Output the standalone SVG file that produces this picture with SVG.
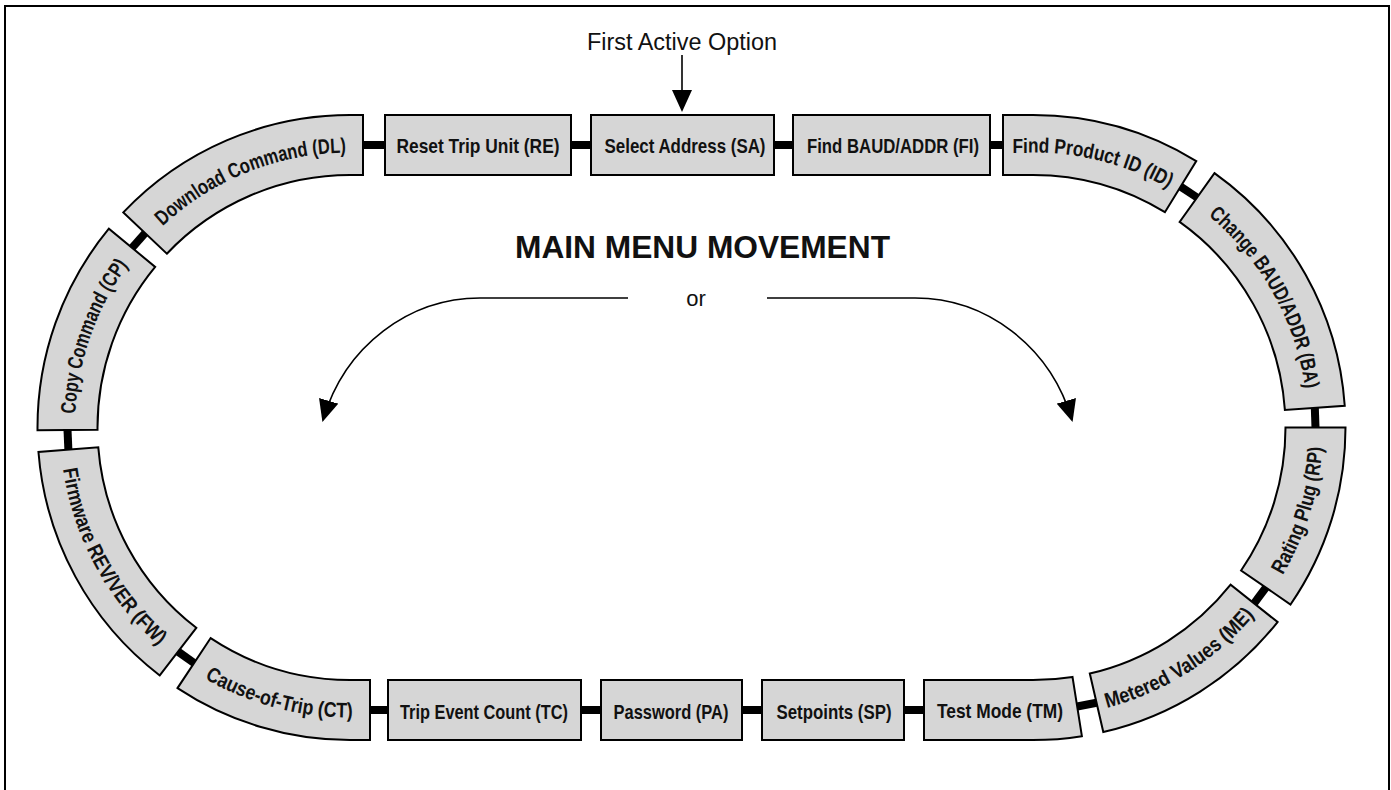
<svg xmlns="http://www.w3.org/2000/svg" width="1391" height="790" viewBox="0 0 1391 790">
<style>
.box{fill:#d6d6d6;stroke:#000;stroke-width:2;stroke-linejoin:miter}
.lbl{font-family:"Liberation Sans",Arial,sans-serif;font-weight:bold;font-size:21px;fill:#111}
.plain{font-family:"Liberation Sans",Arial,sans-serif;fill:#111}
.bar{stroke:#000;stroke-width:8;fill:none}
.thin{stroke:#000;stroke-width:1.6;fill:none}
</style>
<defs>
<marker id="ah" markerUnits="userSpaceOnUse" viewBox="0 0 22 20" refX="20" refY="10" markerWidth="22" markerHeight="20" orient="auto">
<path d="M0,0 L22,10 L0,20 Z" fill="#000"/>
</marker>
<path id="tp-dl" d="M150.52 238.20 A275 275 0 0 1 350 152.5 L363 152.5"/>
<path id="tp-cp" d="M75.01 429.90 A275 275 0 0 1 137.80 252.58"/>
<path id="tp-fw" d="M60.89 450.25 A290 290 0 0 0 173.46 657.57"/>
<path id="tp-ct" d="M189.94 669.33 A290 290 0 0 0 350 717.5 L370 717.5"/>
<path id="tp-id" d="M1003 152.5 L1033 152.5 A275 275 0 0 1 1176.69 193.02"/>
<path id="tp-ba" d="M1192.69 203.62 A275 275 0 0 1 1307.33 408.32"/>
<path id="tp-rp" d="M1272.0 591.76 A290 290 0 0 0 1323 427.5"/>
<path id="tp-me" d="M1098.24 710.07 A290 290 0 0 0 1259.96 608.03"/>
</defs>
<rect width="1391" height="790" fill="#fff"/>
<path d="M5 791 V6 H1389 V791" fill="none" stroke="#000" stroke-width="2"/>

<g id="connectors">
<line class="bar" x1="362" y1="145" x2="386" y2="145"/>
<line class="bar" x1="570" y1="145" x2="592" y2="145"/>
<line class="bar" x1="773" y1="145" x2="794" y2="145"/>
<line class="bar" x1="989" y1="145" x2="1004" y2="145"/>
<line class="bar" x1="145.08" y1="233.04" x2="132.02" y2="247.81"/>
<line class="bar" x1="67.51" y1="429.97" x2="68.37" y2="449.67"/>
<line class="bar" x1="178.03" y1="651.62" x2="194.08" y2="663.07"/>
<line class="bar" x1="369" y1="710" x2="389" y2="710"/>
<line class="bar" x1="580" y1="710" x2="602" y2="710"/>
<line class="bar" x1="741" y1="710" x2="763" y2="710"/>
<line class="bar" x1="903" y1="710" x2="925" y2="710"/>
<line class="bar" x1="1077.19" y1="706.52" x2="1096.55" y2="702.76"/>
<line class="bar" x1="1254.09" y1="603.36" x2="1265.82" y2="587.51"/>
<line class="bar" x1="1315.5" y1="427.5" x2="1314.81" y2="407.79"/>
<line class="bar" x1="1197.05" y1="197.51" x2="1180.61" y2="186.63"/>
<line class="thin" x1="682" y1="55" x2="682" y2="110" marker-end="url(#ah)"/>
<path class="thin" d="M628 298 L480 298 C410 298 345 345 323 420" marker-end="url(#ah)"/>
<path class="thin" d="M767 298 L915 298 C985 298 1050 345 1072 420" marker-end="url(#ah)"/>
</g>

<g id="node-re">
<rect class="box" x="385" y="115" width="186" height="60"/>
<text class="lbl" x="478" y="153" text-anchor="middle" textLength="163" lengthAdjust="spacingAndGlyphs">Reset Trip Unit (RE)</text>
</g>
<g id="node-sa">
<rect class="box" x="591" y="115" width="183" height="60"/>
<text class="lbl" x="685" y="153" text-anchor="middle" textLength="161" lengthAdjust="spacingAndGlyphs">Select Address (SA)</text>
</g>
<g id="node-fi">
<rect class="box" x="793" y="115" width="197" height="60"/>
<text class="lbl" x="893" y="153" text-anchor="middle" textLength="172" lengthAdjust="spacingAndGlyphs">Find BAUD/ADDR (FI)</text>
</g>
<g id="node-id">
<path class="box" d="M1003 115 L1033 115 A312.5 312.5 0 0 1 1196.28 161.05 L1164.93 212.21 A252.5 252.5 0 0 0 1033 175 L1003 175 Z"/>
<text class="lbl"><textPath href="#tp-id" startOffset="50%" text-anchor="middle" textLength="162" lengthAdjust="spacingAndGlyphs">Find Product ID (ID)</textPath></text>
</g>
<g id="node-ba">
<path class="box" d="M1344.74 405.70 A312.5 312.5 0 0 0 1214.47 173.09 L1179.63 221.93 A252.5 252.5 0 0 1 1284.88 409.89 Z"/>
<text class="lbl"><textPath href="#tp-ba" startOffset="50%" text-anchor="middle" textLength="203" lengthAdjust="spacingAndGlyphs">Change BAUD/ADDR (BA)</textPath></text>
</g>
<g id="node-rp">
<path class="box" d="M1290.54 604.50 A312.5 312.5 0 0 0 1345.5 427.5 L1285.5 427.5 A252.5 252.5 0 0 1 1241.09 570.52 Z"/>
<text class="lbl"><textPath href="#tp-rp" startOffset="50%" text-anchor="middle" textLength="135" lengthAdjust="spacingAndGlyphs">Rating Plug (RP)</textPath></text>
</g>
<g id="node-me">
<path class="box" d="M1103.30 731.99 A312.5 312.5 0 0 0 1277.57 622.03 L1230.61 584.68 A252.5 252.5 0 0 1 1089.80 673.53 Z"/>
<text class="lbl"><textPath href="#tp-me" startOffset="50%" text-anchor="middle" textLength="177" lengthAdjust="spacingAndGlyphs">Metered Values (ME)</textPath></text>
</g>
<g id="node-tm">
<path class="box" d="M924 680 L1033 680 A252.5 252.5 0 0 0 1072.50 676.89 L1081.88 736.15 A312.5 312.5 0 0 1 1033 740 L924 740 Z"/>
<text class="lbl" x="1000" y="718" text-anchor="middle" textLength="126" lengthAdjust="spacingAndGlyphs">Test Mode (TM)</text>
</g>
<g id="node-sp">
<rect class="box" x="762" y="680" width="142" height="60"/>
<text class="lbl" x="834" y="719" text-anchor="middle" textLength="115" lengthAdjust="spacingAndGlyphs">Setpoints (SP)</text>
</g>
<g id="node-pa">
<rect class="box" x="601" y="680" width="141" height="60"/>
<text class="lbl" x="671" y="719" text-anchor="middle" textLength="115" lengthAdjust="spacingAndGlyphs">Password (PA)</text>
</g>
<g id="node-tc">
<rect class="box" x="388" y="680" width="193" height="60"/>
<text class="lbl" x="484" y="719" text-anchor="middle" textLength="168" lengthAdjust="spacingAndGlyphs">Trip Event Count (TC)</text>
</g>
<g id="node-ct">
<path class="box" d="M177.52 688.09 A312.5 312.5 0 0 0 350 740 L370 740 L370 680 L350 680 A252.5 252.5 0 0 1 210.64 638.06 Z"/>
<text class="lbl"><textPath href="#tp-ct" startOffset="50%" text-anchor="middle" textLength="155" lengthAdjust="spacingAndGlyphs">Cause-of-Trip (CT)</textPath></text>
</g>
<g id="node-fw">
<path class="box" d="M38.46 452.02 A312.5 312.5 0 0 0 159.76 675.42 L196.29 627.82 A252.5 252.5 0 0 1 98.28 447.31 Z"/>
<text class="lbl"><textPath href="#tp-fw" startOffset="50%" text-anchor="middle" textLength="205" lengthAdjust="spacingAndGlyphs">Firmware REV/VER (FW)</textPath></text>
</g>
<g id="node-cp">
<path class="box" d="M108.87 228.72 A312.5 312.5 0 0 0 37.51 430.23 L97.51 429.70 A252.5 252.5 0 0 1 155.17 266.89 Z"/>
<text class="lbl"><textPath href="#tp-cp" startOffset="50%" text-anchor="middle" textLength="160" lengthAdjust="spacingAndGlyphs">Copy Command (CP)</textPath></text>
</g>
<g id="node-dl">
<path class="box" d="M363 115 L350 115 A312.5 312.5 0 0 0 123.32 212.39 L166.84 253.69 A252.5 252.5 0 0 1 350 175 L363 175 Z"/>
<text class="lbl"><textPath href="#tp-dl" startOffset="50%" text-anchor="middle" textLength="202" lengthAdjust="spacingAndGlyphs">Download Command (DL)</textPath></text>
</g>

<g id="labels">
<text class="plain" x="682" y="50" font-size="23" text-anchor="middle" textLength="190" lengthAdjust="spacingAndGlyphs">First Active Option</text>
<text class="plain" x="702.5" y="258" font-size="31" font-weight="bold" text-anchor="middle" textLength="375" lengthAdjust="spacingAndGlyphs">MAIN MENU MOVEMENT</text>
<text class="plain" x="696" y="306" font-size="22" text-anchor="middle">or</text>
</g>
</svg>
